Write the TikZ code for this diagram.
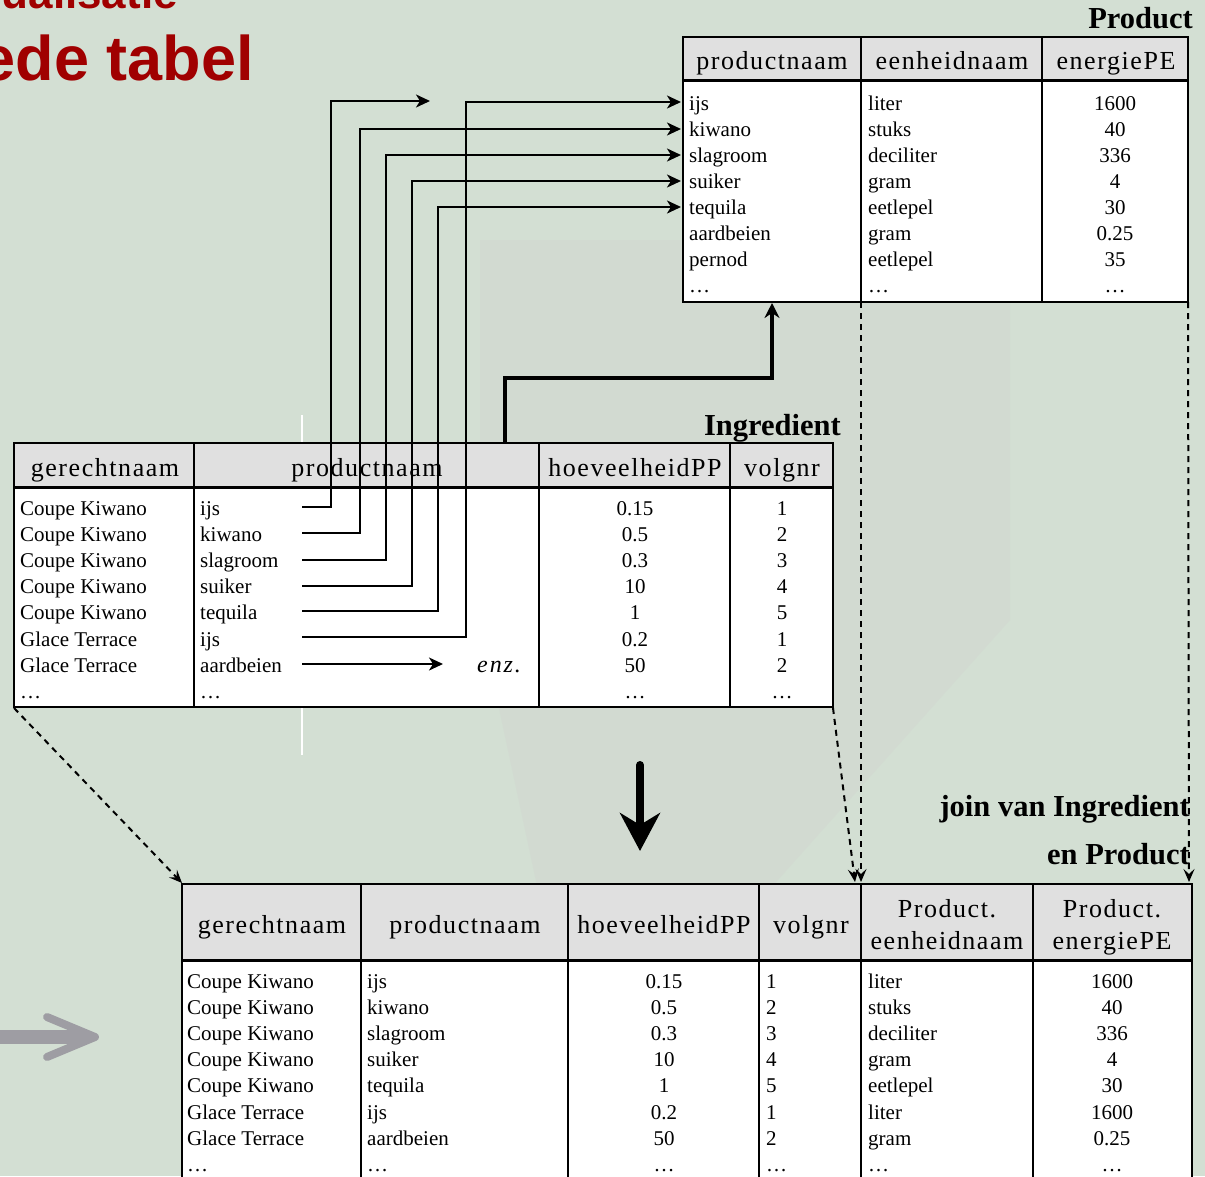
\documentclass[tikz,border=0pt]{standalone}
\usepackage{fontspec}
\setmainfont{Liberation Serif}
\newfontfamily\hdrfont[LetterSpace=6]{Liberation Serif}
\newfontfamily\enzfont[LetterSpace=8]{Liberation Serif}
\newfontfamily\titlefont{Liberation Sans}
\usetikzlibrary{arrows.meta,calc}
\definecolor{bgc}{RGB}{211,223,211}
\definecolor{bggray}{RGB}{208,208,206}
\definecolor{hdrc}{RGB}{224,224,224}
\definecolor{titlered}{RGB}{160,0,0}
\definecolor{grayarrow}{RGB}{158,157,163}
\tikzset{
  cell/.style={font=\fontsize{21}{21}\selectfont, inner sep=0pt},
  lcell/.style={cell, anchor=base west},
  ccell/.style={cell, anchor=base},
  hcell/.style={font=\hdrfont\fontsize{26}{26}\selectfont, inner sep=0pt, anchor=base},
  ttl/.style={font=\bfseries\fontsize{30.5}{30.5}\selectfont, inner sep=0pt, anchor=base east},
  frame/.style={draw=black, line width=2pt},
  hline/.style={draw=black, line width=3pt},
  conn/.style={line width=2pt, -{Stealth[length=14pt,width=13pt,inset=4pt]}},
  bigconn/.style={line width=4pt, -{Stealth[length=15pt,width=15pt,inset=5pt]}},
  dconn/.style={line width=2pt, dash pattern=on 6pt off 5pt, -{Stealth[length=13pt,width=11pt,inset=5pt]}},
}
\begin{document}
\begin{tikzpicture}[x=1pt,y=-1pt]
\useasboundingbox (0,0) rectangle (1205,1176);
\clip (0,0) rectangle (1205,1176);
% background
\fill[bgc] (0,0) rectangle (1205,1176);
\fill[bggray, opacity=0.3] (480,240) -- (1010,240) -- (1010,620) -- (760,900) -- (540,900) -- (480,620) -- cycle;
\draw[white, line width=2pt] (302,415) -- (302,755);
% gray arrow (background)
\draw[grayarrow, line width=14pt] (0,1037) -- (88,1037);
\draw[grayarrow, line width=8pt, line cap=round, line join=round] (47,1017) -- (95,1037) -- (47,1057);
% red title remnants
\node[font=\titlefont\bfseries\fontsize{44}{44}\selectfont, text=titlered, inner sep=0pt, anchor=base east] (t0) at (178,8) {ualisatie};
\node[font=\titlefont\bfseries\fontsize{63}{63}\selectfont, text=titlered, inner sep=0pt, anchor=base east] (t1) at (254,80) {ede tabel};

% ================= Product table
\fill[hdrc] (683,37) rectangle (1188,80);
\fill[white] (683,80) rectangle (1188,302);
\draw[hline] (683,80) -- (1188,80);
\draw[frame] (861,37) -- (861,302) (1042,37) -- (1042,302);
\draw[frame] (683,37) rectangle (1188,302);
\node[ttl] (ptitle) at (1193,28) {Product};
\node[hcell] (ph1) at (772,69) {productnaam};
\node[hcell] (ph2) at (952,69) {eenheidnaam};
\node[hcell] (ph3) at (1116,69) {energiePE};
\foreach \a/\b/\c [count=\i] in {ijs/liter/1600,kiwano/stuks/40,slagroom/deciliter/336,suiker/gram/4,tequila/eetlepel/30,aardbeien/gram/0.25,pernod/eetlepel/35,\ldots/\ldots/\ldots}{
  \pgfmathsetmacro\yy{110+26*(\i-1)}
  \node[lcell] (pa\i) at (689,\yy) {\a};
  \node[lcell] (pb\i) at (868,\yy) {\b};
  \node[ccell] (pc\i) at (1115,\yy) {\c};
}

% ================= Ingredient table
\fill[hdrc] (14,443) rectangle (833,487);
\fill[white] (14,487) rectangle (833,707);
\draw[hline] (14,487) -- (833,487);
\draw[frame] (194,443) -- (194,707) (539,443) -- (539,707) (730,443) -- (730,707);
\draw[frame] (14,443) rectangle (833,707);
\node[ttl] (ititle) at (841,435) {Ingredient};
\node[hcell] (ih1) at (105,476) {gerechtnaam};
\node[hcell] (ih2) at (367,476) {productnaam};
\node[hcell] (ih3) at (635,476) {hoeveelheidPP};
\node[hcell] (ih4) at (782,476) {volgnr};
\foreach \a/\b/\c/\d [count=\i] in {Coupe Kiwano/ijs/0.15/1,Coupe Kiwano/kiwano/0.5/2,Coupe Kiwano/slagroom/0.3/3,Coupe Kiwano/suiker/10/4,Coupe Kiwano/tequila/1/5,Glace Terrace/ijs/0.2/1,Glace Terrace/aardbeien/50/2,\ldots/\ldots/\ldots/\ldots}{
  \pgfmathsetmacro\yy{515+26.2*(\i-1)}
  \node[lcell] (ia\i) at (20,\yy) {\a};
  \node[lcell] (ib\i) at (200,\yy) {\b};
  \node[ccell] (ic\i) at (635,\yy) {\c};
  \node[ccell] (id\i) at (782,\yy) {\d};
}
\node[inner sep=0pt, anchor=base west, font=\enzfont\itshape\fontsize{24}{24}\selectfont] (enz) at (477,672) {enz.};

% ================= Join table
\fill[hdrc] (182,884) rectangle (1192,960);
\fill[white] (182,960) rectangle (1192,1200);
\draw[hline] (182,960) -- (1192,960);
\draw[frame] (361,884) -- (361,1200) (568,884) -- (568,1200) (759,884) -- (759,1200) (861,884) -- (861,1200) (1033,884) -- (1033,1200);
\draw[frame] (182,884) rectangle (1192,1200);
\node[ttl] (jt1) at (1190,816) {join van Ingredient};
\node[ttl] (jt2) at (1190,864) {en Product};
\node[hcell] (jh1) at (272,933) {gerechtnaam};
\node[hcell] (jh2) at (465,933) {productnaam};
\node[hcell] (jh3) at (664,933) {hoeveelheidPP};
\node[hcell] (jh4) at (811,933) {volgnr};
\node[hcell] (jh5a) at (947,917) {Product.};
\node[hcell] (jh5b) at (947,949) {eenheidnaam};
\node[hcell] (jh6a) at (1112,917) {Product.};
\node[hcell] (jh6b) at (1112,949) {energiePE};
\foreach \a/\b/\c/\d/\e/\f [count=\i] in {Coupe Kiwano/ijs/0.15/1/liter/1600,Coupe Kiwano/kiwano/0.5/2/stuks/40,Coupe Kiwano/slagroom/0.3/3/deciliter/336,Coupe Kiwano/suiker/10/4/gram/4,Coupe Kiwano/tequila/1/5/eetlepel/30,Glace Terrace/ijs/0.2/1/liter/1600,Glace Terrace/aardbeien/50/2/gram/0.25,\ldots/\ldots/\ldots/\ldots/\ldots/\ldots}{
  \pgfmathsetmacro\yy{988+26.2*(\i-1)}
  \node[lcell] (ja\i) at (187,\yy) {\a};
  \node[lcell] (jb\i) at (367,\yy) {\b};
  \node[ccell] (jc\i) at (664,\yy) {\c};
  \node[lcell] (jd\i) at (766,\yy) {\d};
  \node[lcell] (je\i) at (868,\yy) {\e};
  \node[ccell] (jf\i) at (1112,\yy) {\f};
}

% ================= connectors
\coordinate (s1) at (302,507); \coordinate (v1) at (331,101); \coordinate (e1) at (430,101);
\coordinate (s2) at (302,533); \coordinate (v2) at (360,129); \coordinate (e2) at (681,129);
\coordinate (s3) at (302,560); \coordinate (v3) at (386,155); \coordinate (e3) at (681,155);
\coordinate (s4) at (302,586); \coordinate (v4) at (412,181); \coordinate (e4) at (681,181);
\coordinate (s5) at (302,611); \coordinate (v5) at (438,207); \coordinate (e5) at (681,207);
\coordinate (s6) at (302,637); \coordinate (v6) at (466,102); \coordinate (e6) at (681,102);
\coordinate (s7) at (302,664); \coordinate (e7) at (443,664);
\foreach \k in {1,...,6}{ \draw[conn] (s\k) -| (v\k) -- (e\k); }
\draw[conn] (s7) -- (e7);

\coordinate (b0) at (505,443); \coordinate (b1) at (772,378); \coordinate (b2) at (772,303);
\draw[bigconn] (b0) |- (b1) -- (b2);

\coordinate (da) at (640,765); \coordinate (db) at (640,851);
\draw[line width=8pt, line cap=round, -{Stealth[length=38pt,width=40pt,inset=12pt]}] (da) -- (db);

\coordinate (d1s) at (14,708); \coordinate (d1e) at (182,883);
\coordinate (d2s) at (833,708); \coordinate (d2e) at (855,882);
\coordinate (d3s) at (861,302); \coordinate (d3e) at (861,882);
\coordinate (d4s) at (1188,302); \coordinate (d4e) at (1189,882);
\draw[dconn] (d1s) -- (d1e);
\draw[dconn] (d2s) -- (d2e);
\draw[dconn] (d3s) -- (d3e);
\draw[dconn] (d4s) -- (d4e);
\end{tikzpicture}
\end{document}
